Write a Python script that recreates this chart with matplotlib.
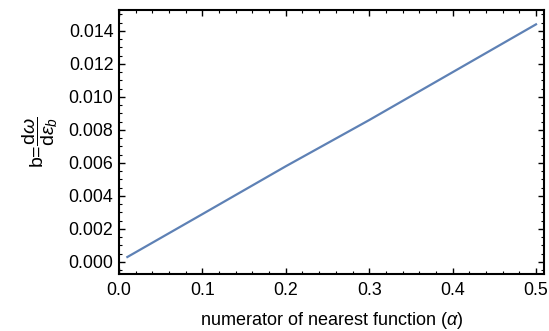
import matplotlib
matplotlib.use("Agg")
import matplotlib.pyplot as plt
from matplotlib.ticker import MultipleLocator

plt.rcParams['font.family'] = ['Liberation Sans', 'DejaVu Sans']
plt.rcParams['mathtext.fontset'] = 'custom'
plt.rcParams['mathtext.rm'] = 'Liberation Sans'
plt.rcParams['mathtext.it'] = 'Liberation Sans:italic'

alpha = [0.01, 0.1, 0.2, 0.3, 0.4, 0.5]
b = [0.0003, 0.0029, 0.0058, 0.0086, 0.0115, 0.0144]

fig = plt.figure(figsize=(5.49, 3.31), dpi=100)
ax = fig.add_axes([0.2168, 0.1722, 0.7741, 0.7976])
ax.plot(alpha, b, color="#5E81B5", lw=1.6)

ax.set_xlim(0, 0.5096)
ax.set_ylim(-0.00073, 0.01527)
ax.xaxis.set_major_locator(MultipleLocator(0.1))
ax.xaxis.set_minor_locator(MultipleLocator(0.02))
ax.yaxis.set_major_locator(MultipleLocator(0.002))
ax.yaxis.set_minor_locator(MultipleLocator(0.0005))
ax.xaxis.set_major_formatter(lambda v, p: f"{v:.1f}")
ax.yaxis.set_major_formatter(lambda v, p: f"{v:.3f}")
ax.tick_params(which="both", direction="in", top=True, right=True, labelsize=12.8, colors="black")
ax.tick_params(which="major", length=4.5, width=1)
ax.tick_params(which="minor", length=2.5, width=0.8)
ax.tick_params(axis="x", pad=6)
ax.tick_params(axis="y", pad=4)
for s in ax.spines.values():
    s.set_linewidth(1.5)

ax.set_xlabel(r"numerator of nearest function ($\alpha$)", fontsize=13, labelpad=8)
ax.set_ylabel(r"b=$\dfrac{\mathrm{d}\omega}{\mathrm{d}\epsilon_b}$", fontsize=14, labelpad=6)

fig.savefig("out.png", dpi=100)
